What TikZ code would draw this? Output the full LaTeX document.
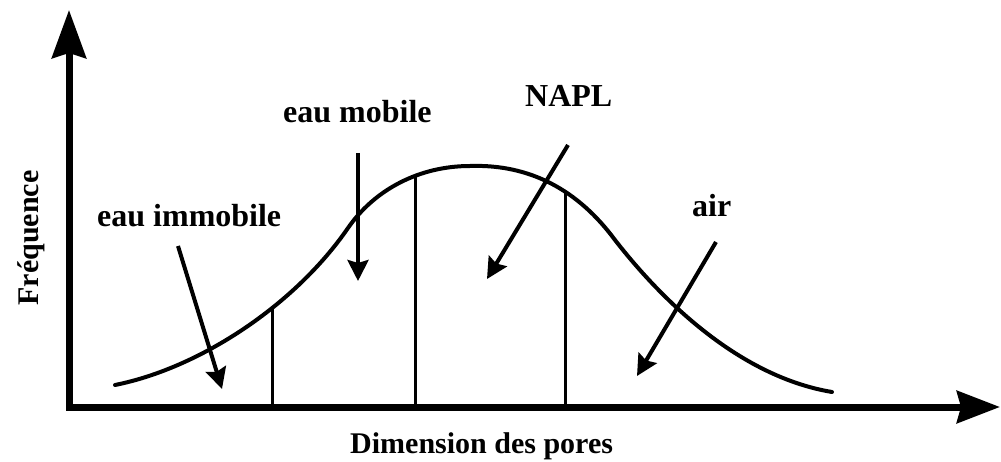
\documentclass[tikz,border=0pt]{standalone}
\usepackage{fontspec}
\setmainfont{Liberation Serif}
\usetikzlibrary{arrows.meta}
\begin{document}
\begin{tikzpicture}[x=1pt,y=-1pt,
  axis/.style={line width=7pt,{Stealth[length=48pt,width=34pt,inset=5pt]}-{Stealth[length=43pt,width=32pt,inset=4pt]}},
  curve/.style={line width=4pt,line cap=round},
  divider/.style={line width=3pt},
  pointer/.style={line width=4pt,-{Stealth[length=21pt,width=21pt,inset=3pt]}},
  lbl/.style={inner sep=0pt,font=\fontsize{32}{36}\selectfont\bfseries},
  axlbl/.style={inner sep=0pt,font=\fontsize{30}{34}\selectfont\bfseries}]
\useasboundingbox (0,0) rectangle (1001,462);
% axes
\coordinate (ytop) at (69,10);
\coordinate (orig) at (69,407);
\coordinate (xend) at (1000,407);
\draw[axis] (ytop) -- (orig) -- (xend);
% bell curve
\draw[curve] (115,385) .. controls (200,368) and (295,305) .. (348,228)
  .. controls (375,189) and (420,166) .. (470,166)
  .. controls (530,164) and (578,190) .. (615,240)
  .. controls (650,285) and (730,375) .. (832,392);
% dividers
\coordinate (d1t) at (272,307); \coordinate (d1b) at (272,407);
\coordinate (d2t) at (415,176); \coordinate (d2b) at (415,407);
\coordinate (d3t) at (565,191); \coordinate (d3b) at (565,407);
\draw[divider] (d1t) -- (d1b);
\draw[divider] (d2t) -- (d2b);
\draw[divider] (d3t) -- (d3b);
% labels
\node[lbl,anchor=base west] (imm) at (97,227) {eau immobile};
\node[lbl,anchor=base west] (mob) at (283,123) {eau mobile};
\node[lbl,anchor=base west] (napl) at (525,107) {NAPL};
\node[lbl,anchor=base west] (air) at (692,217) {air};
\node[axlbl,anchor=base west] (xl) at (350,453) {Dimension des pores};
\node[axlbl,anchor=base,rotate=90] (yl) at (38,238) {Fréquence};
% pointers
\coordinate (p1s) at (178,246); \coordinate (p1e) at (222,389);
\coordinate (p2s) at (358,153); \coordinate (p2e) at (358,281);
\coordinate (p3s) at (568,145); \coordinate (p3e) at (487,279);
\coordinate (p4s) at (716,242); \coordinate (p4e) at (637,376);
\draw[pointer] (p1s) -- (p1e);
\draw[pointer] (p2s) -- (p2e);
\draw[pointer] (p3s) -- (p3e);
\draw[pointer] (p4s) -- (p4e);
\end{tikzpicture}
\end{document}
